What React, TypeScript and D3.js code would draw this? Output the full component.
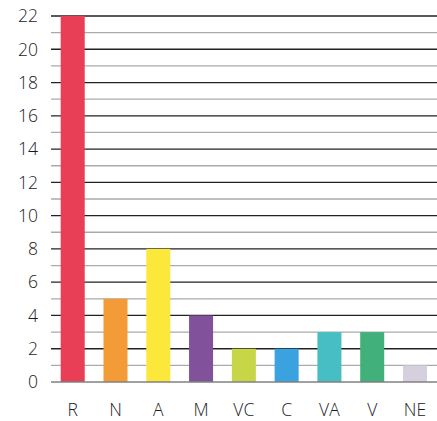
import React, { useEffect, useRef } from 'react'
import * as d3 from 'd3'

const categories = ['R', 'N', 'A', 'M', 'VC', 'C', 'VA', 'V', 'NE']
const values = [22, 5, 8, 4, 2, 2, 3, 3, 1]
const colors = ['#e83e56', '#f39b37', '#fbe83a', '#81519b', '#c7d647', '#3aa3df', '#47bec4', '#42b07b', '#d6cfdd']
const yTicks = [0, 2, 4, 6, 8, 10, 12, 14, 16, 18, 20, 22]

export default function App() {
    const ref = useRef<SVGSVGElement>(null)

    useEffect(() => {
        const svg = d3.select(ref.current)
        svg.selectAll('*').remove()

        const x = d3.scaleBand<string>()
            .domain(categories)
            .range([50, 437.7])
            .paddingInner(0.4386)
            .paddingOuter(0.25)
        const y = d3.scaleLinear()
            .domain([0, 22])
            .range([382, 16])

        // grid lines, every unit; even ones darker
        const grid = d3.range(1, 23)
        svg.append('g')
            .selectAll('line')
            .data(grid)
            .join('line')
            .attr('x1', 51)
            .attr('x2', 437)
            .attr('y1', d => y(d))
            .attr('y2', d => y(d))
            .attr('stroke', d => (d % 2 === 0 ? '#222' : '#aaaaaa'))
            .attr('stroke-width', 1.3)

        svg.append('g')
            .selectAll('rect')
            .data(values)
            .join('rect')
            .attr('x', (d, i) => x(categories[i])!)
            .attr('width', x.bandwidth())
            .attr('y', d => y(d))
            .attr('height', d => y(0) - y(d))
            .attr('fill', (d, i) => colors[i])

        // baseline
        svg.append('line')
            .attr('x1', 51)
            .attr('x2', 437)
            .attr('y1', y(0))
            .attr('y2', y(0))
            .attr('stroke', '#808080')
            .attr('stroke-width', 1.5)

        svg.append('g')
            .selectAll('text')
            .data(yTicks)
            .join('text')
            .attr('x', 38)
            .attr('y', d => y(d))
            .attr('dy', '0.36em')
            .attr('text-anchor', 'end')
            .text(d => d)

        svg.append('g')
            .selectAll('text')
            .data(categories)
            .join('text')
            .attr('x', d => x(d)! + x.bandwidth() / 2)
            .attr('y', 410)
            .attr('dy', '0.36em')
            .attr('text-anchor', 'middle')
            .text(d => d)

        svg.selectAll('text')
            .attr('font-family', '"Open Sans", sans-serif')
            .attr('font-weight', 300)
            .attr('font-size', 17.5)
            .attr('fill', '#1a1a1a')
    }, [])

    return (
        <svg ref={ref} width={437} height={421}
            style={{ position: 'absolute', left: 0, top: 0, background: '#fff' }} />
    )
}
